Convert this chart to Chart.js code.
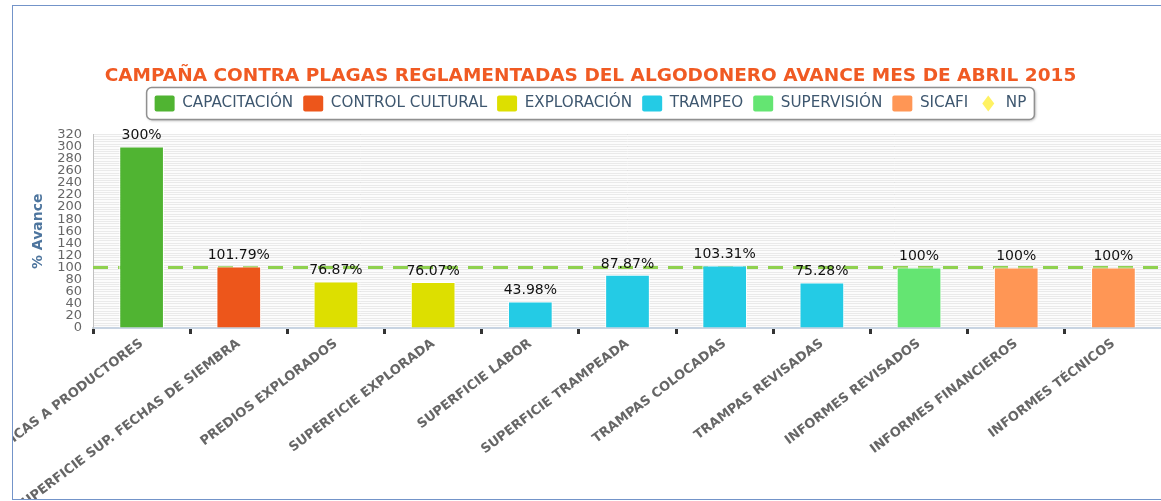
<!DOCTYPE html>
<html lang="es">
<head>
  <meta charset="UTF-8" />
  <title>Campaña contra plagas reglamentadas del algodonero</title>
  <script src="https://cdn.jsdelivr.net/npm/chart.js"></script>
  <style>
    html, body { margin: 0; background: #fff; overflow: hidden; }
    #frame { position: absolute; left: 12px; top: 5px; width: 1200px; height: 493px; border: 1px solid #7394c9; overflow: hidden; }
    #chart { display: block; }
  </style>
</head>
<body>
  <div id="frame"><canvas id="chart" width="1156" height="493"></canvas></div>

  <script>
    // categorias del eje x
    const categories = [
      'PLÁTICAS A PRODUCTORES', 'SUPERFICIE SUP. FECHAS DE SIEMBRA', 'PREDIOS EXPLORADOS',
      'SUPERFICIE EXPLORADA', 'SUPERFICIE LABOR', 'SUPERFICIE TRAMPEADA', 'TRAMPAS COLOCADAS',
      'TRAMPAS REVISADAS', 'INFORMES REVISADOS', 'INFORMES FINANCIEROS', 'INFORMES TÉCNICOS'
    ];
    const seriesNames = ['CAPACITACIÓN', 'CONTROL CULTURAL', 'EXPLORACIÓN', 'TRAMPEO', 'SUPERVISIÓN', 'SICAFI'];
    const seriesColors = ['#50B432', '#ED561B', '#DDDF00', '#24CBE5', '#64E572', '#FF9655'];
    // % de avance por categoria y la serie a la que pertenece cada una
    const avance = [300, 101.79, 76.87, 76.07, 43.98, 87.87, 103.31, 75.28, 100, 100, 100];
    const serieDeCategoria = [0, 1, 2, 2, 3, 3, 3, 3, 4, 5, 5];
    // meta (NP) = 100%
    const npValue = 100;
    const yMin = 0, yMax = 320, yStep = 20;

    const FONT = 'DejaVu Sans';

    const barDatasets = seriesNames.map((name, s) => ({
      label: name,
      xAxisID: 'x',
      yAxisID: 'y',
      data: avance.map((v, i) => serieDeCategoria[i] === s ? v : null),
      backgroundColor: seriesColors[s],
      borderColor: '#ffffff',
      borderWidth: 1,
      grouped: false,
      categoryPercentage: 1,
      barPercentage: 0.46,
      order: 0
    }));

    const npDataset = {
      type: 'line',
      label: 'NP',
      xAxisID: 'xn',
      yAxisID: 'y',
      data: [{ x: 0, y: npValue }, { x: categories.length, y: npValue }],
      borderColor: '#8fd14f',
      borderWidth: 3,
      borderDash: [15, 10],
      pointRadius: 0,
      fill: false,
      order: 10
    };

    // fondo del area del grafico
    const plotBackground = {
      id: 'plotBackground',
      beforeDraw(chart) {
        const { ctx, chartArea: a } = chart;
        ctx.save();
        ctx.fillStyle = '#fcfcfc';
        ctx.fillRect(a.left, a.top, a.right - a.left, a.bottom - a.top);
        ctx.restore();
      }
    };

    // recuadro redondeado con sombra alrededor de la leyenda
    const legendFrame = {
      id: 'legendFrame',
      beforeDraw(chart) {
        const boxes = chart.legend.legendHitBoxes;
        if (!boxes || !boxes.length) return;
        const left = Math.min(...boxes.map(b => b.left)) - 8;
        const right = Math.max(...boxes.map(b => b.left + b.width)) + 8;
        const top = boxes[0].top - 8;
        const bottom = boxes[0].top + boxes[0].height + 8;
        const ctx = chart.ctx;
        ctx.save();
        ctx.shadowColor = 'rgba(0,0,0,0.35)';
        ctx.shadowBlur = 3;
        ctx.shadowOffsetX = 1;
        ctx.shadowOffsetY = 1;
        ctx.beginPath();
        ctx.roundRect(left, top, right - left, bottom - top, 5);
        ctx.fillStyle = '#fff';
        ctx.fill();
        ctx.shadowColor = 'transparent';
        ctx.lineWidth = 1.5;
        ctx.strokeStyle = '#909090';
        ctx.stroke();
        ctx.restore();
      },
      afterDraw(chart) {
        // rombo amarillo para NP
        const items = chart.legend.legendItems;
        const i = items.findIndex(it => it.text === 'NP');
        if (i < 0) return;
        const b = chart.legend.legendHitBoxes[i];
        const cx = b.left + 10, cy = b.top + b.height / 2;
        const ctx = chart.ctx;
        ctx.save();
        ctx.beginPath();
        ctx.moveTo(cx, cy - 8);
        ctx.lineTo(cx + 6, cy);
        ctx.lineTo(cx, cy + 8);
        ctx.lineTo(cx - 6, cy);
        ctx.closePath();
        ctx.fillStyle = '#FFF263';
        ctx.fill();
        ctx.restore();
      }
    };

    // etiquetas de valor sobre las barras
    const valueLabels = {
      id: 'valueLabels',
      afterDatasetsDraw(chart) {
        const ctx = chart.ctx;
        ctx.save();
        ctx.font = '14px "' + FONT + '"';
        ctx.fillStyle = '#111';
        ctx.textAlign = 'center';
        ctx.textBaseline = 'bottom';
        chart.data.datasets.forEach((ds, di) => {
          if (ds.type === 'line') return;
          chart.getDatasetMeta(di).data.forEach((bar, i) => {
            const v = ds.data[i];
            if (v === null) return;
            ctx.fillText(v + '%', bar.x, bar.y - 4);
          });
        });
        ctx.restore();
      }
    };

    new Chart(document.getElementById('chart'), {
      type: 'bar',
      data: { labels: categories, datasets: [...barDatasets, npDataset] },
      plugins: [plotBackground, legendFrame, valueLabels],
      options: {
        responsive: false,
        animation: false,
        layout: { padding: { left: 6, right: 7, top: 0, bottom: 0 } },
        plugins: {
          tooltip: { enabled: false },
          title: {
            display: true,
            text: 'CAMPAÑA CONTRA PLAGAS REGLAMENTADAS DEL ALGODONERO AVANCE MES DE ABRIL 2015',
            color: '#F05A23',
            font: { family: FONT, size: 18.5, weight: 'bold', lineHeight: 1 },
            padding: { top: 61, bottom: 0 }
          },
          legend: {
            labels: {
              color: '#3E576F',
              font: { family: FONT, size: 15.2 },
              boxWidth: 20,
              boxHeight: 16,
              padding: 10,
              useBorderRadius: true,
              borderRadius: 2,
              generateLabels(chart) {
                const items = Chart.defaults.plugins.legend.labels.generateLabels(chart);
                items.forEach(it => {
                  it.lineWidth = 0;
                  if (it.text === 'NP') {
                    it.fillStyle = 'rgba(0,0,0,0)';
                    it.strokeStyle = 'rgba(0,0,0,0)';
                  }
                });
                return items;
              }
            }
          }
        },
        scales: {
          x: {
            offset: true,
            grid: { offset: true, drawOnChartArea: false, drawTicks: true, tickLength: 6, tickWidth: 3, tickColor: '#333' },
            border: { color: '#c8d4e2', width: 2 },
            ticks: {
              autoSkip: false,
              minRotation: 37,
              maxRotation: 37,
              color: '#666',
              font: { family: FONT, size: 13, weight: 'bold' },
              padding: 2
            },
            afterFit: s => { s.paddingLeft = 0; s.paddingRight = 0; s.height = 171; }
          },
          y: {
            min: yMin, max: yMax,
            ticks: {
              stepSize: yStep,
              autoSkip: false,
              color: '#666',
              font: { family: FONT, size: 13 },
              padding: 11
            },
            grid: { color: '#c6c6c6', drawTicks: false },
            border: { color: '#c0c0c0', width: 1 },
            title: {
              display: true,
              text: '% Avance',
              color: '#4d759e',
              font: { family: FONT, size: 14, weight: 'bold' },
              padding: { top: 11, bottom: 0 }
            },
            afterFit: s => { s.width = 74; }
          },
          // lineas menores del fondo
          y2: {
            position: 'left',
            z: -1,
            min: yMin, max: yMax,
            ticks: { display: false, stepSize: 4 },
            grid: { color: '#eaeaea', drawTicks: false },
            border: { display: false },
            afterFit: s => { s.width = 0; }
          },
          // eje superior vacio: solo deja espacio entre la leyenda y el grafico
          xt: {
            type: 'linear',
            position: 'top',
            ticks: { display: false },
            grid: { drawOnChartArea: false, drawTicks: false },
            border: { display: false },
            afterFit: s => { s.height = 13; }
          },
          xn: { type: 'linear', display: false, offset: false, min: 0, max: categories.length }
        }
      }
    });
  </script>
</body>
</html>
